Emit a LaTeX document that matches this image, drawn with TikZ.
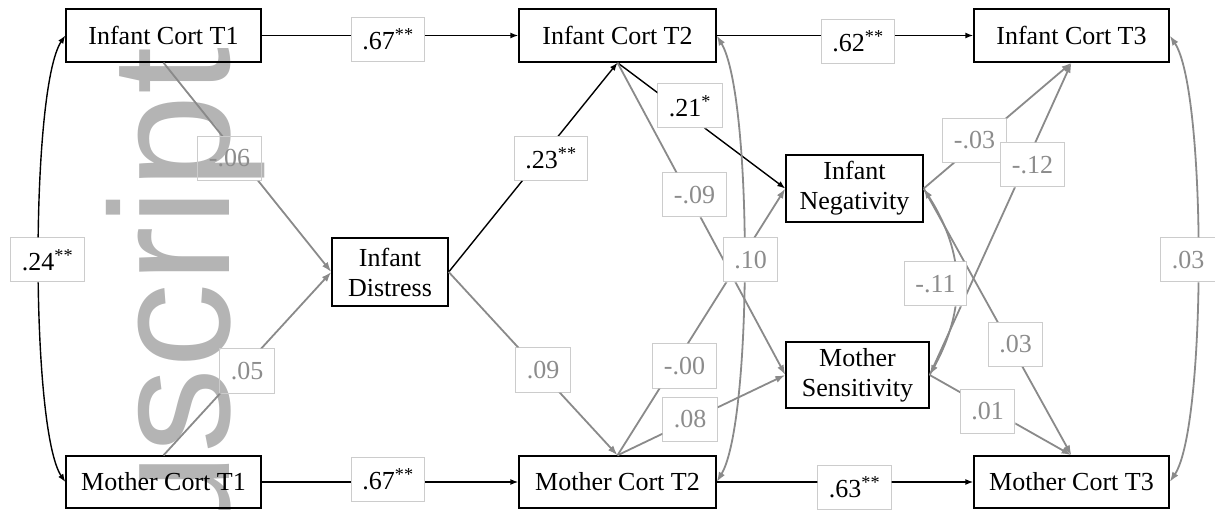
\documentclass[tikz,border=0pt]{standalone}
\usepackage{fontspec}
\setmainfont{Liberation Serif}
\newfontfamily\wmfont{Liberation Sans}
\usetikzlibrary{arrows.meta}
\definecolor{edgegray}{HTML}{8A8A8A}
\definecolor{labtext}{HTML}{8C8C8C}
\definecolor{labborder}{HTML}{CCCCCC}
\definecolor{wmgray}{HTML}{B4B4B4}
\begin{document}
\begin{tikzpicture}[x=1pt,y=-1pt,
  var/.style={draw=black, line width=1.4pt, minimum height=53pt, inner sep=0pt,
    font=\fontsize{26}{30}\selectfont, align=center},
  lab/.style={draw=labborder, fill=white, line width=1pt, minimum height=44pt,
    inner xsep=11pt, inner ysep=0pt, font=\fontsize{26}{30}\selectfont, text=labtext},
  sig/.style={text=black},
  blk/.style={draw=black, line width=1.4pt, -{Latex[length=8pt,width=6pt]}},
  blk2/.style={draw=black, line width=1.4pt, {Latex[length=8pt,width=6pt]}-{Latex[length=8pt,width=6pt]}},
  gry/.style={draw=edgegray, line width=1.8pt, -{Latex[length=10pt,width=7pt]}},
  gry2/.style={draw=edgegray, line width=1.8pt, {Latex[length=10pt,width=7pt]}-{Latex[length=10pt,width=7pt]}}
]
\useasboundingbox (0,0) rectangle (1215,510);

% watermark
\begin{scope}
  \clip (0,0) rectangle (1215,510);
  \node[rotate=90, anchor=base east, inner sep=0pt, text=wmgray,
    font=\wmfont\fontsize{170}{170}\selectfont] (wm) at (229,47) {uscript};
\end{scope}

% variables
\node[var, minimum width=195pt] (ict1) at (163.5,35.5) {Infant Cort T1};
\node[var, minimum width=197pt] (ict2) at (617.5,35.5) {Infant Cort T2};
\node[var, minimum width=195pt] (ict3) at (1071.5,35.5) {Infant Cort T3};
\node[var, minimum width=195pt, minimum height=52pt] (mct1) at (163.5,482) {Mother Cort T1};
\node[var, minimum width=197pt, minimum height=52pt] (mct2) at (617.5,482) {Mother Cort T2};
\node[var, minimum width=195pt, minimum height=52pt] (mct3) at (1071.5,482) {Mother Cort T3};
\node[var, minimum width=116pt, minimum height=68pt] (id) at (390,272) {Infant\\Distress};
\node[var, minimum width=137pt, minimum height=67pt] (neg) at (854.5,188.5) {Infant\\Negativity};
\node[var, minimum width=143pt, minimum height=66pt] (sens) at (857.5,375) {Mother\\Sensitivity};

% labels
\node[lab, sig] (l67a) at (388,39.5) {.67\textsuperscript{**}};
\node[lab, sig] (l62) at (858,41.5) {.62\textsuperscript{**}};
\node[lab, sig] (l67b) at (388,479.5) {.67\textsuperscript{**}};
\node[lab, sig] (l63) at (854.5,487) {.63\textsuperscript{**}};
\node[lab, sig] (l24) at (47.5,260) {.24\textsuperscript{**}};
\node[lab, fill=none] (l06) at (229.5,158.5) {-.06};
\node[lab, fill=none] (l05) at (247,371) {.05};
\node[lab, sig] (l23) at (551,158.5) {.23\textsuperscript{**}};
\node[lab, sig] (l21) at (690,106) {.21\textsuperscript{*}};
\node[lab] (l09a) at (694.5,195) {-.09};
\node[lab] (l10) at (750.5,260) {.10};
\node[lab] (l09b) at (543,370) {.09};
\node[lab] (l00) at (684.5,366) {-.00};
\node[lab] (l08) at (690,419) {.08};
\node[lab] (l03a) at (974.5,140.5) {-.03};
\node[lab] (l12) at (1032.5,165) {-.12};
\node[lab] (l03c) at (1188,260) {.03};
\node[lab] (l11) at (935.5,284) {-.11};
\node[lab] (l03b) at (1015.5,344.5) {.03};
\node[lab] (l01) at (987.5,411.5) {.01};

% connectors, with the label boxes cut out
\begin{scope}
  \clip (0,0) rectangle (1215,510)
    (l67a.north east) rectangle (l67a.south west)
    (l62.north east) rectangle (l62.south west)
    (l67b.north east) rectangle (l67b.south west)
    (l63.north east) rectangle (l63.south west)
    (l24.north east) rectangle (l24.south west)
    (l06.north east) rectangle (l06.south west)
    (l05.north east) rectangle (l05.south west)
    (l23.north east) rectangle (l23.south west)
    (l21.north east) rectangle (l21.south west)
    (l09a.north east) rectangle (l09a.south west)
    (l10.north east) rectangle (l10.south west)
    (l09b.north east) rectangle (l09b.south west)
    (l00.north east) rectangle (l00.south west)
    (l08.north east) rectangle (l08.south west)
    (l03a.north east) rectangle (l03a.south west)
    (l12.north east) rectangle (l12.south west)
    (l03c.north east) rectangle (l03c.south west)
    (l11.north east) rectangle (l11.south west)
    (l03b.north east) rectangle (l03b.south west)
    (l01.north east) rectangle (l01.south west);

  \draw[blk] (ict1.east) -- (ict2.west);
  \draw[blk] (ict2.east) -- (ict3.west);
  \draw[blk] (mct1.east) -- (mct2.west);
  \draw[blk] (mct2.east) -- (mct3.west);
  \draw[blk2] (ict1.west) .. controls +(-35,52) and +(-35,-52) .. (mct1.west);
  \draw[blk] (id.east) -- (ict2.south);
  \draw[blk] (ict2.south) -- (neg.west);

  \draw[gry] (ict1.south) -- (id.west);
  \draw[gry] (mct1.north) -- (id.west);
  \draw[gry] (id.east) -- (mct2.north);
  \draw[gry] (ict2.south) -- (sens.west);
  \draw[gry] (mct2.north) -- (neg.west);
  \draw[gry] (mct2.north) -- (sens.west);
  \draw[gry2] (ict2.east) .. controls +(36,60) and +(36,-60) .. (mct2.east);
  \draw[gry] (neg.east) -- (ict3.south);
  \draw[gry] (sens.east) -- (ict3.south);
  \draw[gry] (neg.east) -- (mct3.north);
  \draw[gry] (sens.east) -- (mct3.north);
  \draw[gry2] (neg.east) .. controls +(42,66) and +(36,-66) .. (sens.east);
  \draw[gry2] (ict3.east) .. controls +(37,55) and +(37,-55) .. (mct3.east);
\end{scope}
\end{tikzpicture}
\end{document}
